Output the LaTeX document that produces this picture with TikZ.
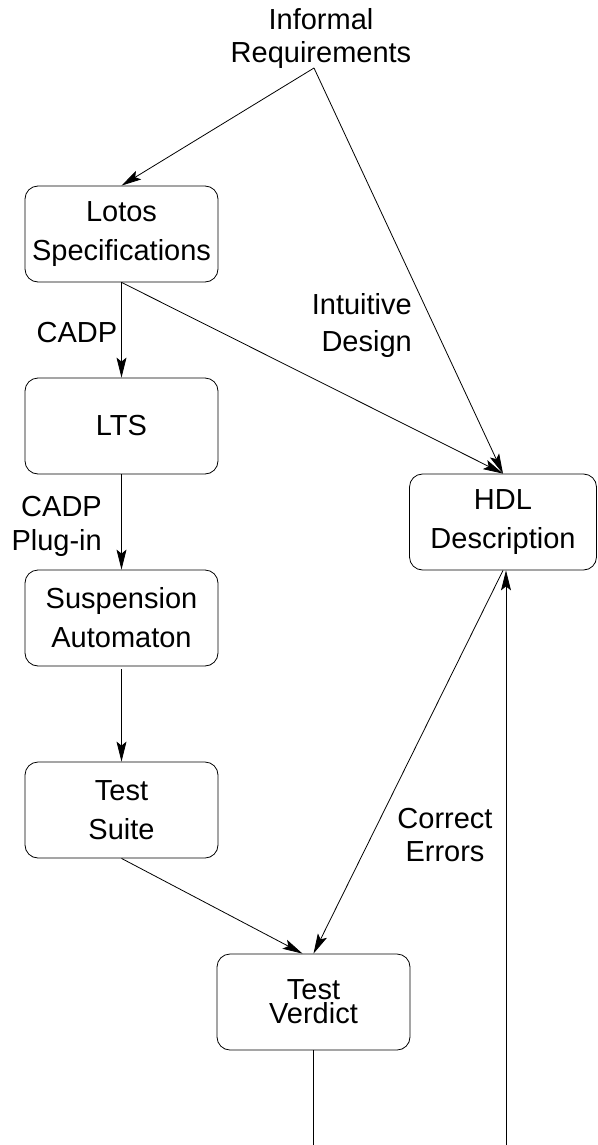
\documentclass[tikz,border=0pt]{standalone}
\usepackage{fontspec}
\setmainfont{Liberation Sans}
\usetikzlibrary{arrows.meta}
\begin{document}
\begin{tikzpicture}[x=1pt,y=-1pt,
  box/.style={draw, rounded corners=13pt, line width=0.8pt, minimum width=193pt, minimum height=96pt, align=center, inner sep=0pt, font=\fontsize{29}{39}\selectfont},
  lab/.style={inner sep=0pt, font=\fontsize{29}{34}\selectfont},
  conn/.style={line width=0.8pt, -{Stealth[length=20pt,width=10pt,inset=4pt]}},
  plain/.style={line width=0.8pt}]
\useasboundingbox (0,0) rectangle (597,1145);
\node[box] (lotos) at (121.5,234) {Lotos\\Specifications};
\node[box] (lts) at (121.5,426) {LTS};
\node[box] (susp) at (121.5,618) {Suspension\\Automaton};
\node[box] (suite) at (121.5,810) {Test\\Suite};
\node[box, minimum width=187pt] (hdl) at (503,522) {HDL\\Description};
\node[box, font=\fontsize{29}{24}\selectfont] (tv) at (313.5,1002) {Test\\Verdict};
\node[lab, align=center, font=\fontsize{29}{33}\selectfont] (inf) at (321,39) {Informal\\Requirements};
\coordinate (apex) at (314,68);
\node[lab] (cadp) at (77,333) {CADP};
\node[lab, align=right, anchor=east] (plug) at (102,526) {CADP\\Plug-in};
\node[lab, align=right, anchor=east, font=\fontsize{29}{37}\selectfont] (int) at (412,325) {Intuitive\\Design};
\node[lab, align=center, font=\fontsize{29}{33}\selectfont] (corr) at (445,835) {Correct\\Errors};
\draw[conn] (apex) -- (lotos.north);
\draw[conn] (apex) -- (hdl.north);
\draw[conn] (lotos.south) -- (lts.north);
\draw[conn] (lotos.south) -- (hdl.north);
\draw[conn] (lts.south) -- (susp.north);
\draw[conn] ([yshift=-3pt]susp.south) -- (suite.north);
\draw[conn] (suite.south) -- ([xshift=-11pt]tv.north);
\draw[conn] (hdl.south) -- (tv.north);
\coordinate (vb) at (506,1145);
\draw[conn] (vb) -- (vb |- hdl.south);
\coordinate (tb) at (313.5,1145);
\draw[plain] (tv.south) -- (tb);
\end{tikzpicture}
\end{document}
